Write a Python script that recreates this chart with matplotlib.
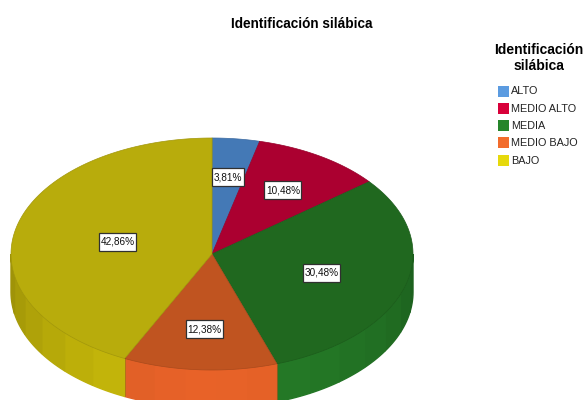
import numpy as np
import matplotlib
matplotlib.use("Agg")
import matplotlib.pyplot as plt
from matplotlib.patches import Polygon, Rectangle

categorias = ["ALTO", "MEDIO ALTO", "MEDIA", "MEDIO BAJO", "BAJO"]
porcentajes = [3.81, 10.48, 30.48, 12.38, 42.86]
etiquetas = ["3,81%", "10,48%", "30,48%", "12,38%", "42,86%"]
colores_leyenda = ["#5b9be0", "#d8003a", "#25852a", "#f26c2c", "#e6d90c"]
colores_arriba = ["#4479b6", "#ab0030", "#20681f", "#c05420", "#b8ac0c"]
colores_lado = ["#4c86c8", "#bf0034", "#257c27", "#e86228", "#cbbc0a"]

plt.rcParams["font.family"] = ["Liberation Sans", "DejaVu Sans"]

# centro y radios de la elipse, en pixeles
cx, cy, rx, ry = 212, 254, 201, 116
grosor = 38

fig = plt.figure(figsize=(5.84, 4.0), dpi=100)
ax = fig.add_axes([0, 0, 1, 1])
ax.set_xlim(0, 584)
ax.set_ylim(400, 0)
ax.axis("off")


def punto(ang, r=1.0):
    return cx + rx * r * np.sin(ang), cy - ry * r * np.cos(ang)


def oscurecer(color, f):
    rgb = np.array(matplotlib.colors.to_rgb(color))
    return tuple(rgb * f)


acum = np.cumsum([0] + porcentajes) / 100 * 2 * np.pi

# costado con bandas, solo la parte de adelante se ve
for i, color in enumerate(colores_lado):
    a0, a1 = acum[i], acum[i + 1]
    ini = max(a0, np.pi / 2)
    fin = min(a1, 3 * np.pi / 2)
    if fin <= ini:
        continue
    n = max(1, int(np.ceil((fin - ini) / np.radians(11))))
    bordes = np.linspace(ini, fin, n + 1)
    for b0, b1 in zip(bordes[:-1], bordes[1:]):
        t = np.linspace(b0, b1, 8)
        x, y = punto(t)
        pts = np.r_[np.c_[x, y], np.c_[x[::-1], y[::-1] + grosor]]
        medio = (b0 + b1) / 2
        f = 1 - 0.24 * (abs(medio - np.pi) / (np.pi / 2)) ** 1.6
        c = oscurecer(color, f)
        ax.add_patch(Polygon(pts, closed=True, facecolor=c, edgecolor=c, lw=1.0, zorder=1))

# cara de arriba
for i, color in enumerate(colores_arriba):
    t = np.linspace(acum[i], acum[i + 1], 120)
    x, y = punto(t)
    pts = np.r_[[[cx, cy]], np.c_[x, y]]
    ax.add_patch(Polygon(pts, closed=True, facecolor=color,
                         edgecolor=oscurecer(color, 0.88), lw=0.5, zorder=2))

# lineas verticales entre porciones en el costado
for a in acum[:-1]:
    if np.pi / 2 < a < 3 * np.pi / 2:
        x, y = punto(a)
        ax.plot([x, x], [y, y + grosor], color="#5a4a10", lw=0.4, alpha=0.5, zorder=3)

# etiquetas en el centroide de cada porcion, caja mas alta que ancha de margen
renderer = fig.canvas.get_renderer()
for i, txt in enumerate(etiquetas):
    mitad = (acum[i] + acum[i + 1]) / 2
    a = (acum[i + 1] - acum[i]) / 2
    r = 2 * np.sin(a) / (3 * a)
    x, y = punto(mitad, r)
    t = ax.text(x, y, txt, fontsize=7.2, ha="center", va="center", color="#111111", zorder=5)
    ancho = t.get_window_extent(renderer).width + 3
    ax.add_patch(Rectangle((x - ancho / 2, y - 9), ancho, 18, facecolor="white",
                           edgecolor="#303030", lw=0.9, zorder=4))

ax.text(302, 24.5, "Identificación silábica", fontsize=9.8, fontweight="bold",
        ha="center", va="center", color="black")
ax.text(538.5, 58, "Identificación\nsilábica", fontsize=10, fontweight="bold",
        ha="center", va="center", color="black", linespacing=1.2)

# leyenda
for i, nombre in enumerate(categorias):
    y = 91 + i * 17.25
    ax.add_patch(Rectangle((498, y - 5.5), 10.5, 11, facecolor=colores_leyenda[i],
                           edgecolor="none", zorder=2))
    ax.text(511, y + 0.5, nombre, fontsize=7.8, ha="left", va="center", color="#222222")

fig.savefig("out.png", dpi=100, facecolor="white")
